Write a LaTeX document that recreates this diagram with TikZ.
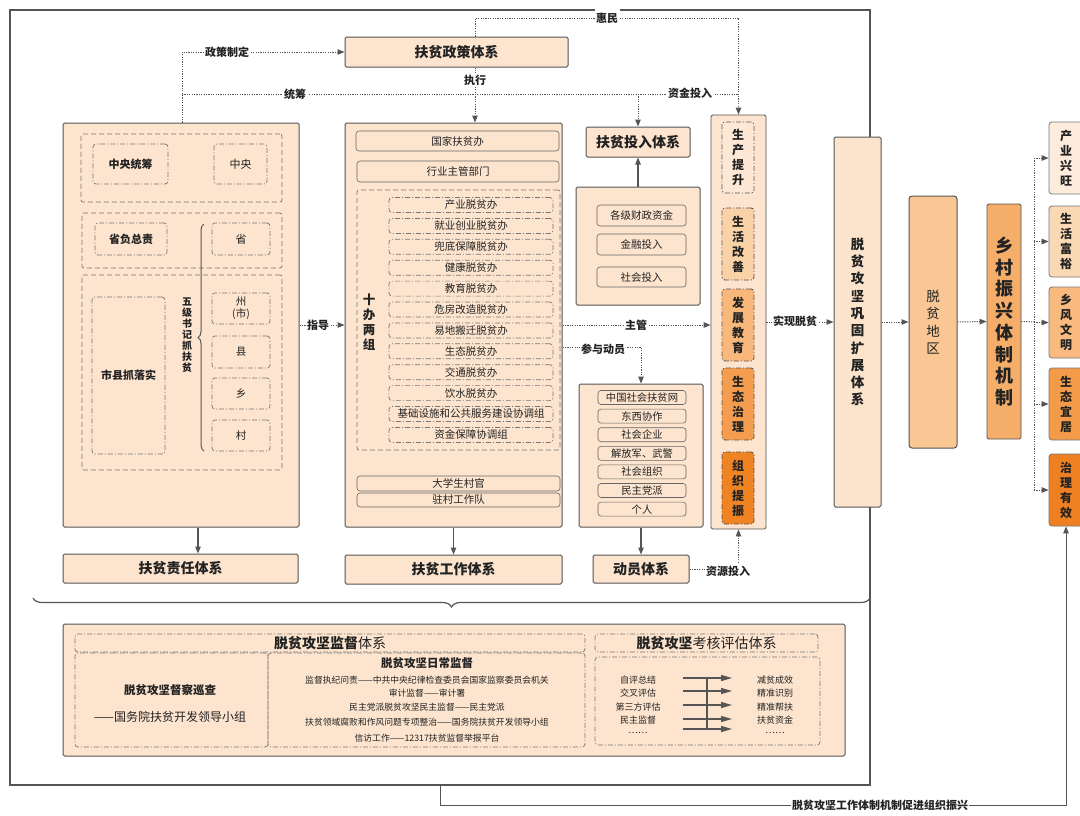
\documentclass[tikz,border=0pt]{standalone}
\usepackage{fontspec}
\setmainfont{Noto Sans CJK SC}
\usetikzlibrary{arrows.meta,fit,decorations.pathreplacing}
\definecolor{peach}{HTML}{FCE4CE}
\definecolor{bd}{HTML}{555555}
\definecolor{txt}{HTML}{222222}
\definecolor{cA}{HTML}{FCE8D4}
\definecolor{cB}{HTML}{FAD2A8}
\definecolor{cC}{HTML}{F8B87C}
\definecolor{cD}{HTML}{F59D4F}
\definecolor{cE}{HTML}{F08422}
\definecolor{rA}{HTML}{FDECDC}
\definecolor{rB}{HTML}{FBD8B4}
\definecolor{rC}{HTML}{F8BA7E}
\definecolor{rD}{HTML}{F49B4A}
\definecolor{rE}{HTML}{EF8022}
\definecolor{areac}{HTML}{F9C694}
\definecolor{revc}{HTML}{F5AD6A}
\definecolor{bigc}{HTML}{FCE3CB}
\newcommand\myfs[2]{\fontsize{#1}{#2}\selectfont}
% box from corner (x1,y1) to (x2,y2)
\newcommand\BX[7][]{%
  \pgfmathsetmacro\bxcx{(#3+#5)/2}\pgfmathsetmacro\bxcy{(#4+#6)/2}%
  \pgfmathsetmacro\bxw{#5-#3}\pgfmathsetmacro\bxh{#6-#4}%
  \node[#1, minimum width=\bxw pt, minimum height=\bxh pt] (#2) at (\bxcx,\bxcy) {#7};}
\tikzset{
 box/.style={draw=bd, fill=peach, line width=1pt, rounded corners=1.5pt, inner sep=0pt},
 sbox/.style={draw=bd!90, fill=peach, line width=0.6pt, rounded corners=3pt, inner sep=0pt},
 grp/.style={draw=bd!80, dash pattern=on 5pt off 3pt, line width=0.7pt, rounded corners=2pt, inner sep=0pt},
 ddb/.style={draw=bd!80, dash pattern=on 5pt off 2pt on 1pt off 2pt, line width=0.7pt, rounded corners=3pt, inner sep=0pt},
 dl/.style={draw=bd, line width=1pt, dash pattern=on 1.2pt off 1.2pt},
 sl/.style={draw=bd, line width=1.2pt},
 arr/.style={-{Triangle[length=7pt,width=5.5pt]}},
 lbl/.style={fill=white, inner sep=1.5pt, font=\myfs{11}{13}\bfseries},
 ttl/.style={font=\myfs{14}{16}\bfseries},
 vbox/.style={ddb, line width=0.9pt, draw=bd, align=center, font=\myfs{12}{15}\bfseries},
 rbox/.style={draw=bd!80, line width=0.8pt, rounded corners=3pt, inner sep=0pt, align=center, font=\myfs{12}{15}\bfseries},
}
\begin{document}
\begin{tikzpicture}[x=1pt,y=-1pt,font=\myfs{10.5}{12},text=txt]
\useasboundingbox (0,0) rectangle (1080,815);
\fill[white] (0,0) rectangle (1080,815);
\clip (0,0) rectangle (1080,815);

% outer frame
\BX[draw=bd, line width=1.2pt, inner sep=0pt]{frame}{10}{10}{870}{785}{}

% policy
\BX[box, ttl]{policy}{345}{37}{568}{67}{扶贫政策体系}

% left block
\BX[box]{L}{63}{123}{299}{527}{}
\BX[grp]{g1}{81}{134}{282}{202}{}
\BX[ddb, font=\myfs{11}{13}\bfseries]{zy1}{93}{144}{168}{184}{中央统筹}
\BX[ddb, font=\myfs{11}{13}]{zy2}{214}{144}{267}{184}{中央}
\BX[grp]{g2}{82}{213}{282}{268}{}
\BX[ddb, font=\myfs{11}{13}\bfseries]{sf1}{95}{223}{167}{255}{省负总责}
\BX[ddb, font=\myfs{11}{13}]{sf2}{212}{223}{270}{255}{省}
\BX[grp]{g3}{82}{275}{282}{470}{}
\BX[ddb, font=\myfs{11}{13}\bfseries]{sx}{92}{297}{165}{454}{市县抓落实}
\node[align=center, font=\myfs{10}{11.1}\bfseries] (wj) at (187,335) {五\\级\\书\\记\\抓\\扶\\贫};
\draw[decorate, decoration={brace, amplitude=6pt}, draw=bd, line width=1pt] (204,451) -- (204,224);
\BX[ddb, align=center, font=\myfs{10.5}{12}]{lv1}{212}{293}{270}{324}{州\\(市)}
\BX[ddb, font=\myfs{10.5}{12}]{lv2}{212}{336}{270}{368}{县}
\BX[ddb, font=\myfs{10.5}{12}]{lv3}{212}{378}{270}{409}{乡}
\BX[ddb, font=\myfs{10.5}{12}]{lv4}{212}{420}{270}{451}{村}
\BX[box, ttl]{resp}{63}{554}{298}{583}{扶贫责任体系}

% middle block
\BX[box]{M}{345}{123}{562}{527}{}
\BX[sbox]{m1}{356}{131}{559}{151}{国家扶贫办}
\BX[sbox]{m2}{357}{161}{559}{182}{行业主管部门}
\BX[grp]{g4}{357}{190}{560}{450}{}
\node[align=center, font=\myfs{12.5}{15}\bfseries] (sb) at (369,322) {十\\办\\两\\组};
\foreach \t [count=\i from 0] in {产业脱贫办,就业创业脱贫办,兜底保障脱贫办,健康脱贫办,教育脱贫办,危房改造脱贫办,易地搬迁脱贫办,生态脱贫办,交通脱贫办,饮水脱贫办,基础设施和公共服务建设协调组,资金保障协调组}
  \node[ddb, minimum width=164pt, minimum height=15pt] (ten\i) at (471,{205+20.9*\i}) {\t};
\BX[sbox]{m3}{357}{476}{560}{491}{大学生村官}
\BX[sbox]{m4}{357}{493}{560}{507}{驻村工作队}
\BX[box, ttl]{work}{345}{555}{562}{584}{扶贫工作体系}

% investment
\BX[box, ttl]{invest}{586}{127}{690}{157}{扶贫投入体系}
\BX[box]{fund}{576}{187}{700}{305}{}
\BX[sbox]{f1}{597}{205}{686}{226}{各级财政资金}
\BX[sbox]{f2}{597}{234}{686}{255}{金融投入}
\BX[sbox]{f3}{597}{267}{686}{287}{社会投入}

% mobilisation
\BX[box]{mob}{579}{384}{703}{527}{}
\foreach \t [count=\i from 0] in {中国社会扶贫网,东西协作,社会企业,解放军、武警,社会组织,民主党派,个人}
  \node[sbox, minimum width=88pt, minimum height=14pt, font=\myfs{10.3}{12}] (mb\i) at (642,{397.5+18.6*\i}) {\t};
\BX[box, ttl]{mobsys}{593}{555}{689}{583}{动员体系}

% column of five
\BX[box, line width=0.8pt]{col}{711}{115}{766}{529}{}
\BX[vbox, fill=cA]{c1}{722}{122}{754}{193}{生\\产\\提\\升}
\BX[vbox, fill=cB]{c2}{722}{208}{754}{280}{生\\活\\改\\善}
\BX[vbox, fill=cC]{c3}{722}{289}{754}{361}{发\\展\\教\\育}
\BX[vbox, fill=cD]{c4}{722}{368}{754}{440}{生\\态\\治\\理}
\BX[vbox, fill=cE]{c5}{722}{452}{754}{524}{组\\织\\提\\振}

% right part
\BX[box, fill=bigc, align=center, font=\myfs{13.5}{17.3}\bfseries]{big}{834}{137}{881}{507}{脱\\贫\\攻\\坚\\巩\\固\\扩\\展\\体\\系}
\BX[box, fill=areac, rounded corners=3pt, align=center, font=\myfs{13.5}{17.5}]{area}{909}{196}{957}{448}{脱\\贫\\地\\区}
\BX[box, fill=revc, line width=0.8pt, align=center, font=\myfs{18}{21.7}\bfseries]{rev}{987}{204}{1021}{439}{乡\\村\\振\\兴\\体\\制\\机\\制}
\BX[rbox, fill=rA]{r1}{1049}{122}{1083}{194}{产\\业\\兴\\旺}
\BX[rbox, fill=rB]{r2}{1049}{206}{1083}{277}{生\\活\\富\\裕}
\BX[rbox, fill=rC]{r3}{1049}{287}{1083}{358}{乡\\风\\文\\明}
\BX[rbox, fill=rD]{r4}{1049}{368}{1083}{440}{生\\态\\宜\\居}
\BX[rbox, fill=rE]{r5}{1049}{454}{1083}{526}{治\\理\\有\\效}

% connectors top
\draw[dl,arr] (policy.north -| 475,0) -- (475,18) -| (col.north);
\draw[dl,arr] (L.north -| 182,0) |- (policy.west);
\draw[dl,arr] (policy.south -| 475,0) -- (M.north -| 475,0);
\draw[dl] (182,94) -- (738.5,94);
\draw[dl,arr] (invest.north |- 0,94) -- (invest.north);
\node[lbl, inner ysep=3.5pt] (lhm) at (607,18) {惠民};
\node[lbl] (lzc) at (227,52) {政策制定};
\node[lbl] (lzx) at (475,80) {执行};
\node[lbl] (ltc) at (295,94) {统筹};
\node[lbl] (lzj) at (690,93) {资金投入};

% connectors middle
\draw[dl,arr] (L.east) -- (M.west);
\node[lbl] (lzd) at (318,325) {指导};
\draw[dl,arr] (M.east |- 0,325) -- (col.west |- 0,325);
\node[lbl] (lzg) at (636,325) {主管};
\draw[dl,arr] (M.east |- 0,347) -| (mob.north);
\node[lbl] (lcy) at (603,349) {参与动员};
\draw[sl,arr] (L.south -| 198,0) -- (resp.north -| 198,0);
\draw[sl,arr] (M.south) -- (work.north);
\draw[sl,arr] (fund.north) -- (invest.south);
\draw[sl,arr] (mob.south -| 641,0) -- (mobsys.north -| 641,0);
\draw[dl,arr] (mobsys.east) -| (col.south);
\node[lbl] (lzy) at (728,571) {资源投入};

% connectors right
\draw[dl,arr] (col.east) -- (big.west);
\node[lbl] (lsx) at (795,321) {实现脱贫};
\draw[dl,arr] (big.east) -- (area.west);
\draw[dl,arr] (area.east) -- (rev.west);
\coordinate (jn) at (1034,322);
\draw[dl] (rev.east) -- (jn);
\draw[dl] (1034,158) -- (1034,490);
\foreach \r in {r1,r2,r3,r4,r5}
  \draw[dl,arr] (\r.west -| 1034,0) -- (\r.west);

% brace
\draw[decorate, decoration={brace, mirror, amplitude=9pt}, draw=bd, line width=1.2pt] (33,598) -- (870,598);

% bottom block
\BX[box]{bot}{63}{624}{845}{756}{}
\BX[ddb, font=\myfs{14}{16}]{suph}{75}{634}{585}{652}{\textbf{脱贫攻坚监督}体系}
\BX[ddb]{insp}{75}{653}{268}{747}{}
\node[font=\myfs{11.5}{13}\bfseries] (insp1) at (170,690) {脱贫攻坚督察巡查};
\node[font=\myfs{12}{14}] (insp2) at (170,717) {——国务院扶贫开发领导小组};
\BX[ddb]{daily}{268}{653}{585}{747}{}
\node[font=\myfs{11.5}{13}\bfseries] (d0) at (427,663) {脱贫攻坚日常监督};
\node[font=\myfs{8.8}{10}] (d1) at (427,680) {监督执纪问责——中共中央纪律检查委员会国家监察委员会机关};
\node[font=\myfs{8.8}{10}] (d2) at (427,693) {审计监督——审计署};
\node[font=\myfs{8.8}{10}] (d3) at (427,707) {民主党派脱贫攻坚民主监督——民主党派};
\node[font=\myfs{8.8}{10}] (d4) at (427,722) {扶贫领域腐败和作风问题专项整治——国务院扶贫开发领导小组};
\node[font=\myfs{8.8}{10}] (d5) at (427,738) {信访工作——12317扶贫监督举报平台};
\BX[ddb, font=\myfs{14}{16}]{evh}{595}{634}{818}{652}{\textbf{脱贫攻坚}考核评估体系}
\BX[ddb]{evb}{595}{657}{820}{745}{}
\foreach \t/\y [count=\i] in {自评总结/680,交叉评估/693,第三方评估/707,民主监督/720,……/733}
  \node[font=\myfs{9}{10}] (el\i) at (638,\y) {\t};
\foreach \t/\y [count=\i] in {减贫成效/680,精准识别/693,精准帮扶/707,扶贫资金/720,……/733}
  \node[font=\myfs{9}{10}] (er\i) at (775,\y) {\t};
\foreach \y [count=\i] in {678,691,705,719,729}
  \draw[draw=bd, line width=1.3pt, -{Triangle[length=11pt,width=6pt]}] (683,\y) coordinate (ea\i) -- (732,\y) coordinate (eb\i);
\draw[draw=bd, line width=1.3pt] (ea1 -| 707,0) -- (ea5 -| 707,0);

% bottom feedback line
\draw[sl, line width=1pt, arr] (frame.south -| 440,0) -- (440,805) -| (r5.south);
\node[lbl, inner sep=1pt] (lfb) at (880,805) {脱贫攻坚工作体制机制促进组织振兴};
\end{tikzpicture}
\end{document}
